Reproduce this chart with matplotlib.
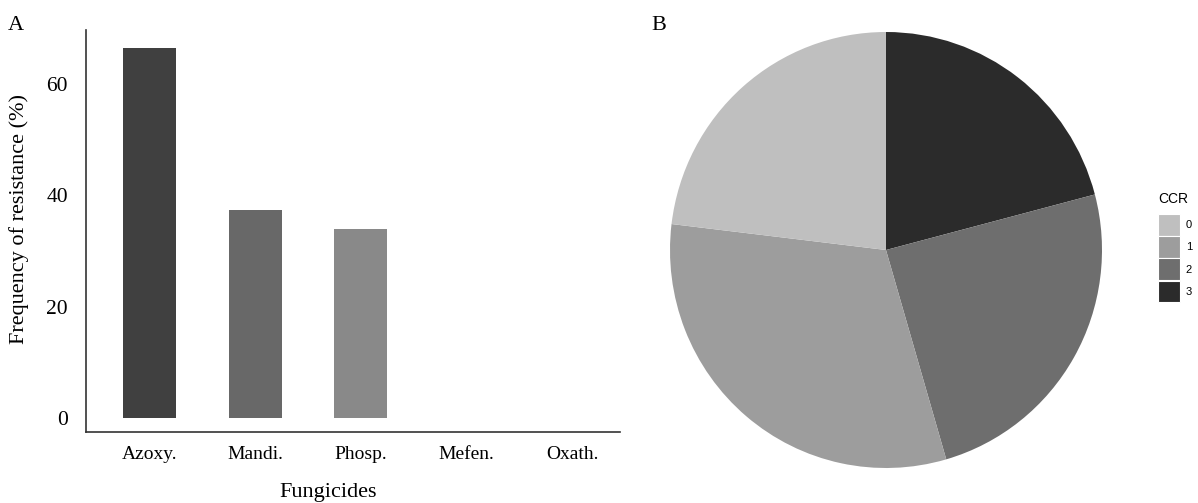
import matplotlib
matplotlib.use("Agg")
import matplotlib.pyplot as plt
from matplotlib.patches import Patch

# Panel A: frequency of resistance per fungicide
fungicides = ["Azoxy.", "Mandi.", "Phosp.", "Mefen.", "Oxath."]
resistance_pct = [66.4, 37.3, 33.9, 0.0, 0.0]
bar_colors = ["#404040", "#686868", "#898989", "#a8a8a8", "#c4c4c4"]
yticks = [0, 20, 40, 60]

# Panel B: share of isolates per CCR class
ccr_classes = ["0", "1", "2", "3"]
ccr_share = [23.1, 31.4, 24.6, 20.9]
ccr_colors = ["#bfbfbf", "#9d9d9d", "#6e6e6e", "#2b2b2b"]

W, H = 1198, 503
fig = plt.figure(figsize=(W / 100, H / 100), dpi=100)
serif = "Liberation Serif"
sans = "Liberation Sans"

# ---- bar chart ----
ax = fig.add_axes([86 / W, 1 - 432 / H, (620 - 86) / W, (432 - 30) / H])
x = list(range(len(fungicides)))
ax.bar(x, resistance_pct, width=0.5, color=bar_colors, edgecolor="none")
ax.set_xlim(-0.6, 4.45)
ax.set_ylim(-2.52, 69.72)
ax.set_xticks(x)
ax.set_xticklabels(fungicides, fontfamily=serif, fontsize=14)
ax.set_yticks(yticks)
ax.set_yticklabels([str(v) for v in yticks], fontfamily=serif, fontsize=15.5)
ax.tick_params(axis="x", length=0, pad=10)
ax.tick_params(axis="y", length=0, pad=13)
for s in ("top", "right"):
    ax.spines[s].set_visible(False)
for s in ("left", "bottom"):
    ax.spines[s].set_color("#333333")
    ax.spines[s].set_linewidth(1.2)
ax.set_xlabel("Fungicides", fontfamily=serif, fontsize=16)
ax.set_ylabel("Frequency of resistance (%)", fontfamily=serif, fontsize=16)
ax.xaxis.set_label_coords(0.453, -0.128)
ax.yaxis.set_label_coords(-0.125, 0.53)
ax.xaxis.label.set_va("top")
ax.yaxis.label.set_va("center")

# ---- pie chart ----
pax = fig.add_axes([670 / W, 1 - 468 / H, 432 / W, 436 / H])
pax.pie(ccr_share[::-1], colors=ccr_colors[::-1], startangle=90,
        counterclock=False, radius=1.0,
        wedgeprops=dict(edgecolor="none"))
pax.set_xlim(-1.0, 1.0)
pax.set_ylim(-1.0, 1.0)
pax.set_aspect("auto")
pax.axis("off")

handles = [Patch(facecolor=c, edgecolor="white", linewidth=0.8) for c in ccr_colors]
leg = fig.legend(handles, ccr_classes, title="CCR", loc="upper left",
                 bbox_to_anchor=(1158 / W, 1 - 192 / H), frameon=False,
                 prop={"family": sans, "size": 8},
                 title_fontproperties={"family": sans, "size": 10},
                 handlelength=1.95, handleheight=2.6, labelspacing=0.05,
                 handletextpad=0.55, borderpad=0, borderaxespad=0)
leg._legend_box.align = "left"
leg._legend_box.sep = 6

fig.text(8 / W, 1 - 30 / H, "A", fontfamily=serif, fontsize=16)
fig.text(651 / W, 1 - 30 / H, "B", fontfamily=serif, fontsize=16)

fig.savefig("out.png", dpi=100, facecolor="white")
